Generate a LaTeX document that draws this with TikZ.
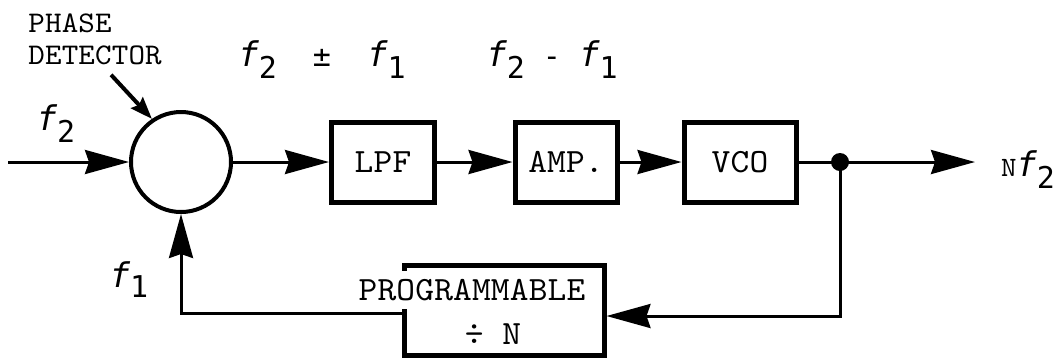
\documentclass[tikz,border=0pt]{standalone}
\usepackage{fontspec}
\newfontfamily\labelfont{DejaVu Sans Mono}
\newfontfamily\boxfont{lmmono10-regular.otf}[LetterSpace=0.5, FakeStretch=1.05]
\usetikzlibrary{arrows.meta}

\newcommand{\fsub}[2][-6pt]{{\itshape\fontsize{17}{17}\selectfont f}\raisebox{#1}{#2}}

\begin{document}
\begin{tikzpicture}[x=0.5pt, y=-0.5pt,
    block/.style={draw, line width=2.5pt, minimum width=#1, minimum height=40pt,
      inner sep=0pt, font=\boxfont\fontsize{17}{15}\selectfont},
    wire/.style={line width=1.5pt},
    head/.style={-{Stealth[length=22pt, width=12pt, inset=2pt]}},
    txt/.style={font=\boxfont\fontsize{17}{15}\selectfont},
    flab/.style={font=\labelfont\fontsize{15}{15}\selectfont}]
    \useasboundingbox (0,0) rectangle (1058,361);

    % blocks
    \node[circle, draw, line width=2pt, minimum size=50pt] (pd) at (181,162) {};
    \node[block=51.5pt] (lpf) at (383,162) {LPF};
    \node[block=51pt] (amp) at (566,162) {AMP.};
    \node[block=56pt] (vco) at (740,162) {VCO};
    \node[draw, line width=2.5pt, minimum width=100pt, minimum height=45pt] (prog) at (504,310) {};
    \node[txt, fill=white, inner xsep=1pt, inner ysep=4pt] (progtop) at (472,290) {PROGRAMMABLE};
    \node[txt] (progdiv) at (493,334) {÷ N};

    % labels
    \node[font=\boxfont\fontsize{15}{16}\selectfont, align=left, anchor=north west, inner sep=0pt] (pdname) at (28,13) {PHASE\\DETECTOR};
    \node[flab] (fin) at (56,124) {\fsub{2}};
    \node[flab] (fsum) at (322,60) {\fsub{2}~~±~~\fsub{1}};
    \node[flab] (fdiff) at (552,60) {\fsub{2} - \fsub{1}};
    \node[flab] (fback) at (129,280) {\fsub[-5pt]{1}};
    \node[flab] (nout) at (1028,170) {{\boxfont\fontsize{14}{14}\selectfont N}\fsub{2}};

    \coordinate (in) at (8,162);
    \coordinate (tap) at (840,162);
    \coordinate (out) at (975,162);

    % forward path
    \draw[wire, head] (in) -- (pd.west);
    \draw[wire, head] (pd.east) -- (lpf.west);
    \draw[wire, head] (lpf.east) -- (amp.west);
    \draw[wire, head] (amp.east) -- (vco.west);
    \draw[wire] (vco.east) -- (tap);
    \draw[wire, head] (tap) -- (out);
    \fill (tap) circle (4.5pt);

    % feedback
    \draw[wire, head] (tap) |- ([yshift=-3pt]prog.east);
    \draw[wire, head] ([yshift=-1.5pt]prog.west) -| (pd.south);

    \draw[line width=2pt, -{Stealth[length=11pt, width=8pt, inset=1.5pt]}] ([xshift=8pt,yshift=-5pt]pdname.south) -- (pd.124);
\end{tikzpicture}
\end{document}
